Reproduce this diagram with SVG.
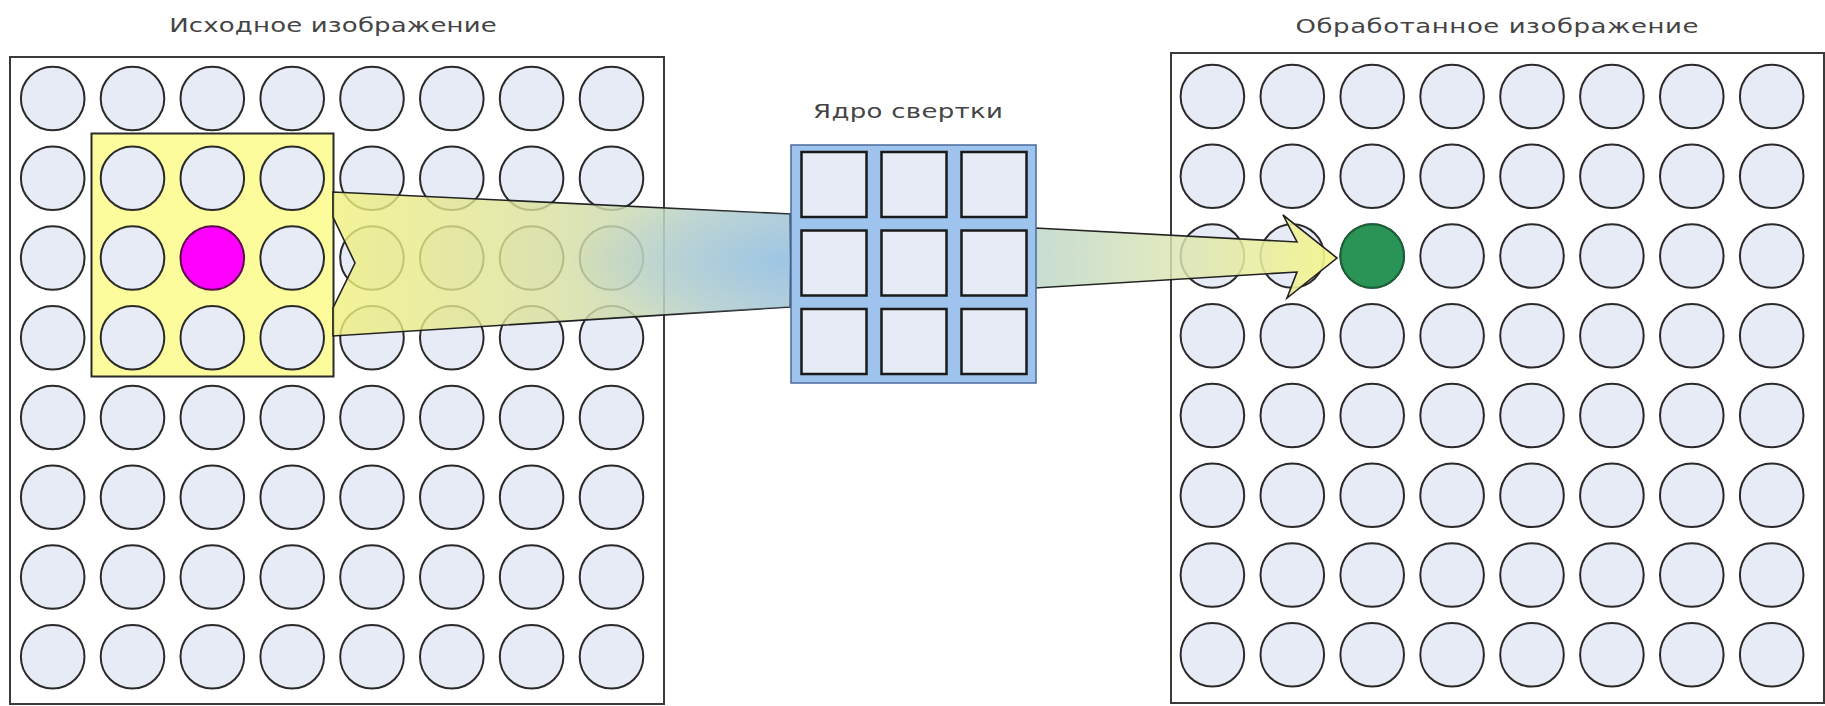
<svg xmlns="http://www.w3.org/2000/svg" xmlns:xlink="http://www.w3.org/1999/xlink" width="1825" height="706" viewBox="0 0 1825 706">
<style>
.frame{fill:#ffffff;stroke:#3a3a3a;stroke-width:2}
.px{fill:#e6ebf5;stroke:#2a2a2a;stroke-width:2}
.lbl{font-family:"DejaVu Sans","Liberation Sans",Arial,sans-serif;font-size:20px;fill:#444;text-anchor:middle}
.cell{fill:#e6ebf5;stroke:#1a1a1a;stroke-width:2.5}
.edge{stroke:#222;stroke-width:1.6;stroke-linejoin:miter}
</style>
<defs>
<g id="rowL">
<circle class="px" cx="52.7" cy="0" r="31.8"/><circle class="px" cx="132.5" cy="0" r="31.8"/><circle class="px" cx="212.3" cy="0" r="31.8"/><circle class="px" cx="292.2" cy="0" r="31.8"/><circle class="px" cx="372" cy="0" r="31.8"/><circle class="px" cx="451.8" cy="0" r="31.8"/><circle class="px" cx="531.6" cy="0" r="31.8"/><circle class="px" cx="611.5" cy="0" r="31.8"/>
</g>
<g id="rowR">
<circle class="px" cx="1212.4" cy="0" r="31.8"/><circle class="px" cx="1292.3" cy="0" r="31.8"/><circle class="px" cx="1372.2" cy="0" r="31.8"/><circle class="px" cx="1452.1" cy="0" r="31.8"/><circle class="px" cx="1532" cy="0" r="31.8"/><circle class="px" cx="1611.9" cy="0" r="31.8"/><circle class="px" cx="1691.8" cy="0" r="31.8"/><circle class="px" cx="1771.7" cy="0" r="31.8"/>
</g>
<linearGradient id="gFunnel" gradientUnits="userSpaceOnUse" x1="333" y1="0" x2="790" y2="0">
<stop offset="0" stop-color="#f0f07c" stop-opacity="0.8"/>
<stop offset="0.45" stop-color="#dbe19c" stop-opacity="0.8"/>
<stop offset="0.8" stop-color="#bdd3c4" stop-opacity="0.85"/>
<stop offset="1" stop-color="#aecbd8" stop-opacity="0.9"/>
</linearGradient>
<radialGradient id="gFunnelGlow" gradientUnits="userSpaceOnUse" cx="790" cy="262" r="170" gradientTransform="translate(790 262) scale(1.3 0.42) translate(-790 -262)">
<stop offset="0" stop-color="#98c4e6" stop-opacity="0.85"/>
<stop offset="0.6" stop-color="#a4c8e0" stop-opacity="0.4"/>
<stop offset="1" stop-color="#a4c8e0" stop-opacity="0"/>
</radialGradient>
<linearGradient id="gArrow" gradientUnits="userSpaceOnUse" x1="1035" y1="0" x2="1337" y2="0">
<stop offset="0" stop-color="#c0d8cc" stop-opacity="0.88"/>
<stop offset="0.5" stop-color="#dde6b0" stop-opacity="0.82"/>
<stop offset="1" stop-color="#f6f68a" stop-opacity="0.92"/>
</linearGradient>
</defs>

<g id="source-image">
<rect class="frame" x="10" y="57" width="654" height="647"/>
<use xlink:href="#rowL" y="98.5"/>
<use xlink:href="#rowL" y="178.25"/>
<use xlink:href="#rowL" y="258"/>
<use xlink:href="#rowL" y="337.75"/>
<use xlink:href="#rowL" y="417.5"/>
<use xlink:href="#rowL" y="497.25"/>
<use xlink:href="#rowL" y="577"/>
<use xlink:href="#rowL" y="656.75"/>
<g id="window">
<rect x="91.5" y="133.5" width="242" height="243" fill="#fdfc9c" stroke="#2a2a2a" stroke-width="2"/>
<circle class="px" cx="132.5" cy="178.25" r="31.8"/><circle class="px" cx="212.3" cy="178.25" r="31.8"/><circle class="px" cx="292.2" cy="178.25" r="31.8"/>
<circle class="px" cx="132.5" cy="258" r="31.8"/><circle cx="212.3" cy="258" r="31.8" fill="#ff00ff" stroke="#5a0a4a" stroke-width="2"/><circle class="px" cx="292.2" cy="258" r="31.8"/>
<circle class="px" cx="132.5" cy="337.75" r="31.8"/><circle class="px" cx="212.3" cy="337.75" r="31.8"/><circle class="px" cx="292.2" cy="337.75" r="31.8"/>
</g>
</g>

<g id="result-image">
<rect class="frame" x="1171" y="53" width="653" height="650" stroke="#555"/>
<use xlink:href="#rowR" y="96.5"/>
<use xlink:href="#rowR" y="176.25"/>
<use xlink:href="#rowR" y="256"/>
<use xlink:href="#rowR" y="335.75"/>
<use xlink:href="#rowR" y="415.5"/>
<use xlink:href="#rowR" y="495.25"/>
<use xlink:href="#rowR" y="575"/>
<use xlink:href="#rowR" y="654.75"/>
</g>

<g id="connectors">
<g id="funnel">
<polygon points="333,192 790,214 790,307 333,336 333,308 355,263 333,217" fill="url(#gFunnel)" class="edge"/>
<polygon points="560,203 790,214 790,307 560,322" fill="url(#gFunnelGlow)" stroke="none"/>
</g>
<polygon id="result-arrow" points="1035,228 1297,242 1283,215 1337,258 1287,298 1297,272 1035,288" fill="url(#gArrow)" class="edge"/>
</g>

<g id="kernel">
<rect x="791" y="145" width="245" height="238" fill="#9ec4ee" stroke="#4a6a9a" stroke-width="1.5"/>
<rect class="cell" x="801.5" y="152" width="65" height="65"/>
<rect class="cell" x="881.5" y="152" width="65" height="65"/>
<rect class="cell" x="961.5" y="152" width="65" height="65"/>
<rect class="cell" x="801.5" y="230.5" width="65" height="65"/>
<rect class="cell" x="881.5" y="230.5" width="65" height="65"/>
<rect class="cell" x="961.5" y="230.5" width="65" height="65"/>
<rect class="cell" x="801.5" y="309" width="65" height="65"/>
<rect class="cell" x="881.5" y="309" width="65" height="65"/>
<rect class="cell" x="961.5" y="309" width="65" height="65"/>
</g>

<g id="output-pixel">
<circle cx="1372.2" cy="256" r="31.8" fill="#2a9457" stroke="#1c5e36" stroke-width="2"/>
</g>

<g id="labels">
<text id="label-source" class="lbl" transform="translate(333 32) scale(1.3 1)" x="0" y="0" textLength="252" lengthAdjust="spacing">Исходное изображение</text>
<text id="label-kernel" class="lbl" transform="translate(908 118) scale(1.3 1)" x="0" y="0" textLength="146" lengthAdjust="spacing">Ядро свертки</text>
<text id="label-result" class="lbl" transform="translate(1497 33) scale(1.3 1)" x="0" y="0" textLength="310" lengthAdjust="spacing">Обработанное изображение</text>
</g>
</svg>
